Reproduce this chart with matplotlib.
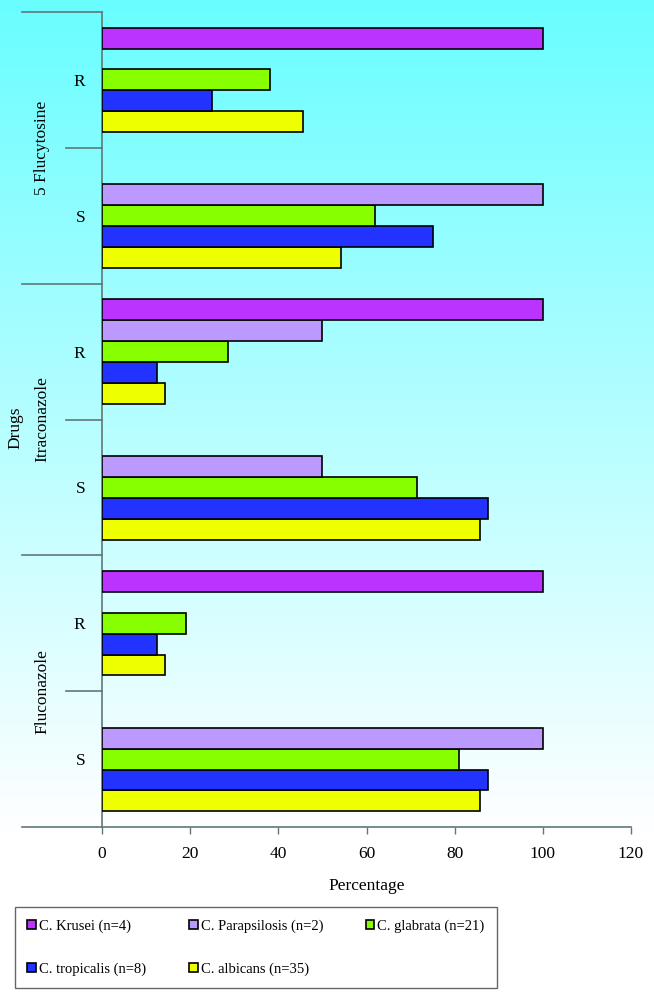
import numpy as np
import matplotlib.pyplot as plt
from matplotlib.patches import Patch
import matplotlib.transforms as mtransforms

plt.rcParams['font.family'] = ['Liberation Serif', 'DejaVu Serif']

# categories, bottom to top
drugs = ['Fluconazole', 'Itraconazole', '5 Flucytosine']
results = ['S', 'R']

species = ['C. albicans (n=35)', 'C. tropicalis (n=8)', 'C. glabrata (n=21)',
           'C. Parapsilosis (n=2)', 'C. Krusei (n=4)']
colors = ['#EEFF00', '#2233FF', '#88FF00', '#BB99FF', '#BB33FF']

# order: Fluconazole S, R; Itraconazole S, R; 5 Flucytosine S, R
albicans = [85.7, 14.3, 85.7, 14.3, 54.3, 45.7]
tropicalis = [87.5, 12.5, 87.5, 12.5, 75.0, 25.0]
glabrata = [81.0, 19.0, 71.4, 28.6, 61.9, 38.1]
parapsilosis = [100, 0, 50, 50, 100, 0]
krusei = [0, 100, 0, 100, 0, 100]
series = [albicans, tropicalis, glabrata, parapsilosis, krusei]

W, H = 654, 1007
fig = plt.figure(figsize=(W / 100, H / 100), dpi=100)
fig.patch.set_facecolor('white')

# background gradient cyan -> white
t = np.clip(np.arange(H) / 830, 0, 1)
top = np.array([105, 253, 255]) / 255
grad = top[None, :] * (1 - t[:, None]) + t[:, None]
img = np.repeat(grad[:, None, :], W, axis=1)
fig.figimage(img, 0, 0, origin='upper', zorder=-10)

left, right, bottom_px, top_px = 102, 631, 827, 12
ax = fig.add_axes([left / W, 1 - bottom_px / H, (right - left) / W, (bottom_px - top_px) / H])
ax.set_facecolor('none')

n_cat = len(drugs) * len(results)
y = np.arange(n_cat)
h = 1 / 6.5
for j, (vals, c) in enumerate(zip(series, colors)):
    vals = np.array(vals, dtype=float)
    m = vals > 0
    ax.barh(y[m] + (j - 2) * h, vals[m], height=h, color=c, edgecolor='black', linewidth=1.2, zorder=3)

ax.set_xlim(0, 120)
ax.set_ylim(-0.5, n_cat - 0.5)
ax.set_xticks(np.arange(0, 121, 20))
ax.set_yticks(y)
ax.set_yticklabels(results * len(drugs))
ax.tick_params(axis='y', length=0, pad=12, labelsize=12.5)
ax.tick_params(axis='x', direction='out', length=5, width=1, color='#607878', pad=9, labelsize=12.5)
for s in ['top', 'right']:
    ax.spines[s].set_visible(False)
for s in ['left', 'bottom']:
    ax.spines[s].set_color('#607878')
    ax.spines[s].set_linewidth(1.2)
ax.set_xlabel('Percentage', fontsize=12.5, labelpad=11)

# multi-level category axis
trans = mtransforms.blended_transform_factory(ax.transAxes, ax.transData)
span = right - left
for k in range(len(drugs) + 1):
    yy = k * len(results) - 0.5
    ax.plot([-(left - 22) / span, 0], [yy, yy], color='#607878', lw=1.2, transform=trans, clip_on=False)
for k in range(len(drugs)):
    yy = k * len(results) + 0.5
    ax.plot([-(left - 66) / span, 0], [yy, yy], color='#607878', lw=1.2, transform=trans, clip_on=False)
    ax.text(-(left - 42) / span, yy, drugs[k], rotation=90, ha='center', va='center',
            fontsize=12.5, transform=trans)
ax.text(-(left - 15) / span, 0.49, 'Drugs', rotation=90, ha='center', va='center',
        fontsize=12.5, transform=ax.transAxes)

# legend, row-major order: Krusei, Parapsilosis, glabrata / tropicalis, albicans
order = [4, 1, 3, 0, 2]
handles = [Patch(facecolor=colors[i], edgecolor='black', linewidth=1.2) for i in order]
labels = [species[i] for i in order]
leg = fig.legend(handles, labels, loc='center left', ncol=3, mode='expand',
                 bbox_to_anchor=(15 / W, 1 - 990 / H, 482 / W, 85 / H),
                 fontsize=10.5, handlelength=0.6, handleheight=0.6, handletextpad=0.2,
                 labelspacing=2.05, borderpad=0.85, borderaxespad=0, fancybox=False,
                 edgecolor='#666666', facecolor='white', framealpha=1)
leg.get_frame().set_linewidth(1.0)

fig.savefig('out.png', dpi=100)
